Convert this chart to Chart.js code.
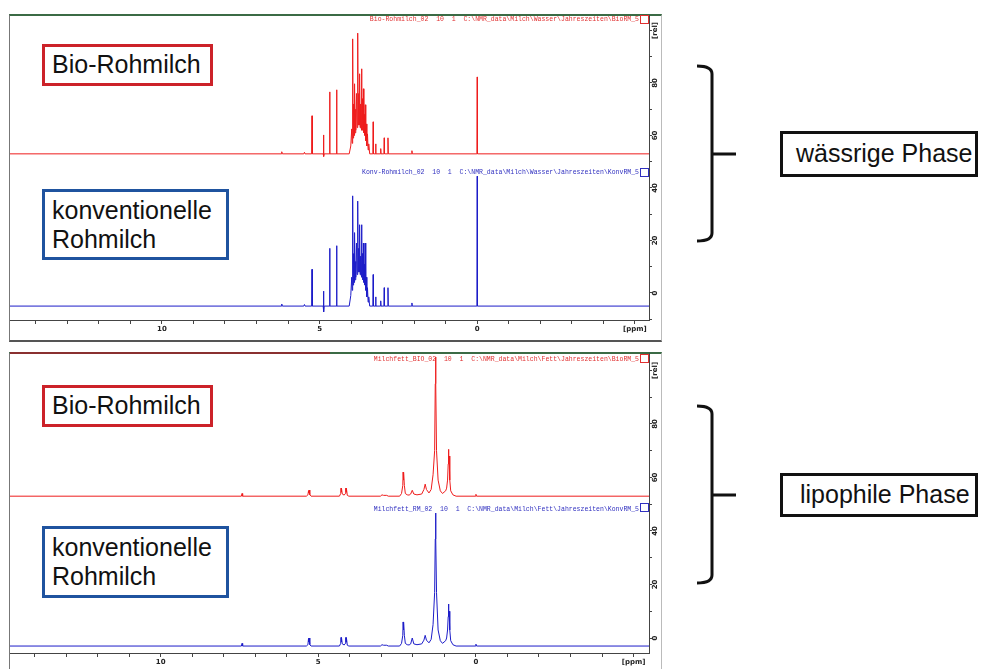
<!DOCTYPE html>
<html><head><meta charset="utf-8">
<script src="https://cdn.jsdelivr.net/npm/chart.js@4"></script>
<style>
html,body{margin:0;padding:0;background:#fff;width:981px;height:669px;overflow:hidden;position:relative;font-family:"Liberation Sans",Arial,sans-serif;}
canvas{position:absolute;z-index:2;}
.frame{position:absolute;box-sizing:border-box;z-index:1;}
.box{position:absolute;box-sizing:border-box;background:#fff;font-size:25px;color:#111;line-height:29px;z-index:3;white-space:nowrap;}
.file{position:absolute;font-family:"Liberation Mono","DejaVu Sans Mono",monospace;font-size:6.5px;white-space:pre;line-height:8px;text-align:right;z-index:3;}
.sq{position:absolute;box-sizing:border-box;width:9px;height:9px;border:1px solid;z-index:3;background:#fff;}
svg{position:absolute;left:0;top:0;z-index:3;}
</style></head><body>

<div class="frame" style="left:9px;top:14px;width:653px;height:328px;border-left:1px solid #777;border-top:2px solid #3b6b45;border-bottom:2px solid #555;border-right:1px solid #bbb;"></div>
<div class="frame" style="left:9px;top:352px;width:653px;height:320px;border-left:1px solid #777;border-top:2px solid #3b6b45;border-right:1px solid #bbb;"></div>
<div class="frame" style="left:10px;top:352px;width:320px;height:2px;background:#8a3030;"></div>

<canvas id="cWater" width="651" height="326" style="left:10px;top:15px;width:651px;height:326px;"></canvas>
<canvas id="cFat" width="651" height="316" style="left:10px;top:353px;width:651px;height:316px;"></canvas>

<div class="file" style="left:300px;top:16px;width:339px;color:#e03030;">Bio-Rohmilch_02  10  1  C:\NMR_data\Milch\Wasser\Jahreszeiten\BioRM_5</div>
<div class="sq" style="left:640px;top:15px;border-color:#e03030;"></div>
<div class="file" style="left:300px;top:169px;width:339px;color:#3030c0;">Konv-Rohmilch_02  10  1  C:\NMR_data\Milch\Wasser\Jahreszeiten\KonvRM_5</div>
<div class="sq" style="left:640px;top:168px;border-color:#3030c0;"></div>
<div class="file" style="left:300px;top:356px;width:339px;color:#e03030;">Milchfett_BIO_02  10  1  C:\NMR_data\Milch\Fett\Jahreszeiten\BioRM_5</div>
<div class="sq" style="left:640px;top:354px;border-color:#e03030;"></div>
<div class="file" style="left:300px;top:506px;width:339px;color:#3030c0;">Milchfett_RM_02  10  1  C:\NMR_data\Milch\Fett\Jahreszeiten\KonvRM_5</div>
<div class="sq" style="left:640px;top:503px;border-color:#3030c0;"></div>

<div class="box" style="left:42px;top:44px;width:171px;height:42px;border:3px solid #cc2229;padding:3px 0 0 7px;">Bio-Rohmilch</div>
<div class="box" style="left:42px;top:189px;width:187px;height:71px;border:3px solid #1f539f;padding:4px 0 0 7px;">konventionelle<br>Rohmilch</div>
<div class="box" style="left:42px;top:385px;width:171px;height:42px;border:3px solid #cc2229;padding:3px 0 0 7px;">Bio-Rohmilch</div>
<div class="box" style="left:42px;top:526px;width:187px;height:72px;border:3px solid #1f539f;padding:4px 0 0 7px;">konventionelle<br>Rohmilch</div>

<div class="box" style="left:780px;top:131px;width:198px;height:46px;border:3px solid #111;padding:5px 0 0 13px;">wässrige Phase</div>
<div class="box" style="left:780px;top:473px;width:198px;height:44px;border:3px solid #111;padding:4px 0 0 17px;">lipophile Phase</div>

<svg width="981" height="669">
<path d="M697,66 Q712,66 712,74 L712,233 Q712,241 697,241 M712,154 L736,154" fill="none" stroke="#111" stroke-width="3"/>
<path d="M697,406 Q712,406 712,414 L712,575 Q712,583 697,583 M712,495 L736,495" fill="none" stroke="#111" stroke-width="3"/>
</svg>

<script>
// ---- axis tick labels ----
const xTickValues = [10, 5, 0, -5];
const xTickTexts = ['10', '5', '0', '[ppm]'];
const yTickValues = [0, 20, 40, 60, 80, 100];
const yTickTexts = ['0', '20', '40', '60', '80', '[rel]'];

// ---- spectra: [ppm, relative intensity above own baseline] ----
const waterBioOffset = 53;
const waterKonvOffset = -5;
const fatBioOffset = 53;
const fatKonvOffset = -3;

const waterBioTrace = [
[14.9,0],[6.22,0],[6.2,0.8],[6.18,0],[5.5,0],[5.48,0.6],[5.46,0],
[5.25,0],[5.24,14.5],[5.23,0],
[4.885,0],[4.875,-1],[4.87,7.2],[4.865,-1],[4.855,0],
[4.69,0],[4.68,23.6],[4.67,0],
[4.47,0],[4.46,24.4],[4.45,0],
[4.06,0],[4.01,3],[3.98,9.5],[3.965,4],[3.95,43.8],[3.935,6],[3.92,19],[3.905,7],[3.89,26.7],[3.875,8],[3.86,17],[3.845,9],[3.83,23],[3.81,10],[3.79,46],[3.775,11],[3.76,23],[3.745,11],[3.73,30.5],[3.715,10],[3.7,19],[3.685,10],[3.67,32.4],[3.655,9],[3.64,21],[3.625,9],[3.61,24.8],[3.595,8],[3.58,15],[3.565,7],[3.55,18.7],[3.535,5],[3.52,11.4],[3.5,3],[3.48,7.6],[3.46,1.5],[3.44,3.8],[3.41,0],
[3.31,0],[3.3,12.2],[3.29,0],[3.23,0],[3.22,3.8],[3.21,0],[3.07,0],[3.06,2],[3.05,0],
[2.96,0],[2.95,6.1],[2.94,0],[2.84,0],[2.83,6.1],[2.82,0],
[2.08,0],[2.07,1.2],[2.06,0],
[0.01,0],[0,29.3],[-0.01,0],[-5.6,0]
];

const waterKonvTrace = [
[14.9,0],[6.22,0],[6.2,0.8],[6.18,0],[5.5,0],[5.48,0.6],[5.46,0],
[5.25,0],[5.24,14],[5.23,0],
[4.885,0],[4.875,-2.2],[4.87,5.7],[4.865,-2.2],[4.855,0],
[4.69,0],[4.68,22],[4.67,0],
[4.47,0],[4.46,23],[4.45,0],
[4.06,0],[4.01,4],[3.98,11],[3.965,6],[3.95,42],[3.935,8],[3.92,20],[3.905,9],[3.89,28],[3.875,10],[3.86,17],[3.845,11],[3.83,24],[3.81,12],[3.79,40],[3.775,13],[3.76,22],[3.745,13],[3.73,31],[3.715,12],[3.7,19],[3.685,12],[3.67,31],[3.655,11],[3.64,20],[3.625,10],[3.61,24],[3.595,9],[3.58,16],[3.565,8],[3.55,24],[3.535,6],[3.52,11],[3.5,3.5],[3.48,7],[3.46,1.5],[3.44,3.5],[3.41,0],
[3.31,0],[3.3,12],[3.29,0],[3.23,0],[3.22,3.5],[3.21,0],[3.07,0],[3.06,2],[3.05,0],
[2.96,0],[2.95,7],[2.94,0],[2.84,0],[2.83,7],[2.82,0],
[2.08,0],[2.07,1.2],[2.06,0],
[0.01,0],[0,49.5],[-0.01,0],[-5.6,0]
];

const fatBioTrace = [
[14.9,0],[7.44,0],[7.42,1.0],[7.40,0],
[5.38,0],[5.33,0.5],[5.31,2.0],[5.30,1.2],[5.29,2.3],[5.27,0.5],[5.23,0],
[4.33,0],[4.29,1],[4.28,3],[4.27,1.5],[4.26,3],[4.24,0.8],[4.18,0.4],[4.14,1],[4.13,3],[4.12,1.5],[4.11,3],[4.08,0.3],[4.03,0],
[3.03,0],[2.98,0.5],[2.93,0.3],[2.83,0.3],[2.78,0],
[2.42,0],[2.36,1],[2.32,4],[2.31,9],[2.30,6],[2.29,9],[2.27,4],[2.24,1],[2.18,0.5],[2.12,0.4],
[2.07,0.8],[2.02,2.2],[1.97,0.8],[1.87,0.5],
[1.72,0.8],[1.65,2.5],[1.61,4.5],[1.57,2.5],[1.49,1.2],
[1.42,2.5],[1.36,8],[1.31,17],[1.29,42],[1.28,52],[1.27,42],[1.25,17],[1.2,6],[1.13,2],[1.06,1],
[0.96,2],[0.93,3],[0.9,6],[0.88,12],[0.87,17.5],[0.86,12],[0.85,15],[0.83,6],[0.8,2],[0.73,0.5],[0.63,0],
[0.02,0],[0,0.7],[-0.02,0],[-5.6,0]
];

const fatKonvTrace = [
[14.9,0],[7.44,0],[7.42,1.0],[7.40,0],
[5.38,0],[5.33,0.5],[5.31,2.8],[5.30,1.5],[5.29,3],[5.27,0.5],[5.23,0],
[4.33,0],[4.29,1],[4.28,3.2],[4.27,1.5],[4.26,3.2],[4.24,0.8],[4.18,0.4],[4.14,1],[4.13,3.2],[4.12,1.5],[4.11,3.2],[4.08,0.3],[4.03,0],
[3.03,0],[2.98,0.5],[2.93,0.3],[2.83,0.3],[2.78,0],
[2.42,0],[2.36,1],[2.32,4],[2.31,9],[2.30,6],[2.29,9],[2.27,4],[2.24,1],[2.18,0.5],[2.12,0.4],
[2.07,0.8],[2.02,3],[1.97,0.8],[1.87,0.5],
[1.72,0.8],[1.65,2.2],[1.61,4],[1.57,2.2],[1.49,1.2],
[1.42,2.5],[1.36,8],[1.31,20],[1.29,40],[1.28,49.7],[1.27,40],[1.25,20],[1.2,6],[1.13,2],[1.06,1],
[0.96,2],[0.93,3],[0.9,6],[0.88,11],[0.87,15.7],[0.86,11],[0.85,13],[0.83,6],[0.8,2],[0.73,0.5],[0.63,0],
[0.02,0],[0,0.7],[-0.02,0],[-5.6,0]
];

const bioColor = '#ee1c1c';
const konvColor = '#1c1cc8';

function toPoints(trace, offset) {
  return trace.map(p => ({ x: p[0], y: p[1] + offset }));
}

function makeChart(id, datasets, xMin, xMax, yMin, yMax, xAxisHeight) {
  const tickFont = { family: '"DejaVu Sans", sans-serif', size: 7, weight: 'bold' };
  return new Chart(document.getElementById(id), {
    type: 'line',
    data: { datasets: datasets.map(d => ({
      data: d.data, borderColor: d.color, borderWidth: 1, pointRadius: 0,
      tension: 0, fill: false, spanGaps: true
    })) },
    options: {
      responsive: false, animation: false, events: [],
      layout: { padding: 0 },
      plugins: { legend: { display: false }, tooltip: { enabled: false } },
      scales: {
        x: {
          type: 'linear', reverse: true, min: xMin, max: xMax, position: 'bottom',
          grid: { display: true, drawOnChartArea: false, drawTicks: true, tickLength: 4, color: '#444' },
          border: { display: true, color: '#444', width: 1 },
          ticks: {
            stepSize: 1, includeBounds: false, autoSkip: false, minRotation: 0, maxRotation: 0,
            padding: 1, color: '#222', font: tickFont,
            callback: v => { const i = xTickValues.indexOf(v); return i >= 0 ? xTickTexts[i] : ''; }
          },
          afterFit: s => { s.height = xAxisHeight; s.paddingLeft = 0; s.paddingRight = 0; }
        },
        y: {
          type: 'linear', position: 'right', min: yMin, max: yMax,
          grid: { display: true, drawOnChartArea: false, drawTicks: true, tickLength: 3, color: '#444' },
          border: { display: true, color: '#444', width: 1 },
          ticks: {
            stepSize: 10, includeBounds: false, autoSkip: false, minRotation: 90, maxRotation: 90,
            crossAlign: 'center', padding: -5, color: '#222', font: tickFont,
            callback: v => { const i = yTickValues.indexOf(v); return i >= 0 ? yTickTexts[i] : ''; }
          },
          afterFit: s => { s.width = 12; s.paddingTop = 0; s.paddingBottom = 0; }
        }
      }
    }
  });
}

makeChart('cWater', [
  { data: toPoints(waterBioTrace, waterBioOffset), color: bioColor },
  { data: toPoints(waterKonvTrace, waterKonvOffset), color: konvColor }
], -5.45, 14.82, -10.3, 105.9, 21);

makeChart('cFat', [
  { data: toPoints(fatBioTrace, fatBioOffset), color: bioColor },
  { data: toPoints(fatKonvTrace, fatKonvOffset), color: konvColor }
], -5.49, 14.78, -5.6, 106.5, 16);
</script>
</body></html>
